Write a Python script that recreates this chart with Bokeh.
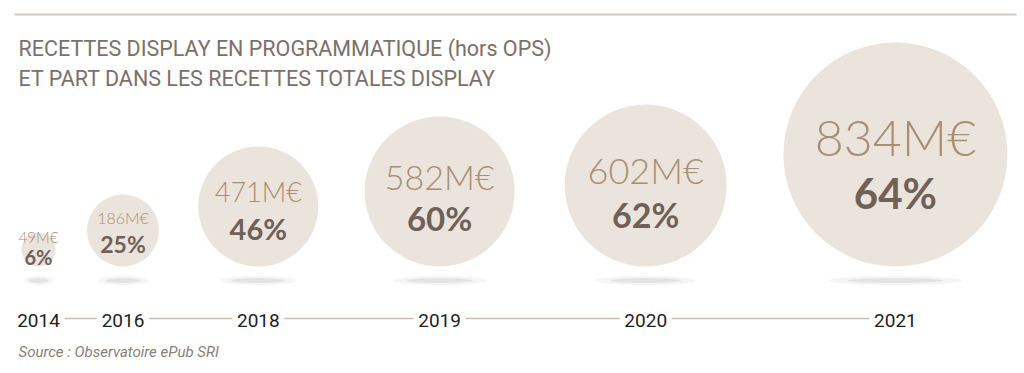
from bokeh.plotting import figure
from bokeh.models import Range1d, Label, ColumnDataSource
from bokeh.core.properties import value
from bokeh.embed import file_html
from bokeh.resources import INLINE

# ---- data ----
years = ["2014", "2016", "2018", "2019", "2020", "2021"]
revenue_meur = [49, 186, 471, 582, 602, 834]   # programmatic display revenue, M€
share_pct = [6, 25, 46, 60, 62, 64]            # share of total display revenue, %

# ---- styling / layout ----
BUBBLE_R = [17, 36, 60, 75, 81, 112]   # bubble radius in px as drawn in the infographic
BASELINE = 266                          # bubbles sit on this line
TIMELINE_Y = 318
X_START = 38

COND_S = "Roboto, sans-serif"
COND = value(COND_S)
LIGHT = value("'Lato Light', Lato, sans-serif")
BOLD = value("Lato, sans-serif")

# bubble centres packed from left to right
xs = [X_START]
for i in range(1, len(BUBBLE_R)):
    xs.append(xs[-1] + 1.18 * (BUBBLE_R[i - 1] + BUBBLE_R[i]) + 22)
cy = [BASELINE - r for r in BUBBLE_R]

src = ColumnDataSource(dict(
    x=xs,
    cy=cy,
    r=BUBBLE_R,
    year=years,
    val_txt=[f"{v}M€" for v in revenue_meur],
    pct_txt=[f"{s}%" for s in share_pct],
    val_y=[c - 0.06 * r - 11 for c, r in zip(cy, BUBBLE_R)],
    pct_y=[c + 0.33 * r + 2 for c, r in zip(cy, BUBBLE_R)],
    val_fs=[f"{max(15, 0.45 * r):.0f}px" for r in BUBBLE_R],
    pct_fs=[f"{max(20, 0.25 * r + 14):.0f}px" for r in BUBBLE_R],
    sh_y=[BASELINE + 14] * len(years),
    sh_w=[0.8 * r + 6 for r in BUBBLE_R],
    sh_w2=[1.1 * r + 10 for r in BUBBLE_R],
    ty=[TIMELINE_Y + 2] * len(years),
))

W, H = 1020, 368
p = figure(width=W, height=H, x_range=Range1d(0, W), y_range=Range1d(H, 0),
           output_backend="svg", toolbar_location=None, min_border=0)
p.axis.visible = False
p.grid.visible = False
p.outline_line_color = None
p.background_fill_color = "white"
p.border_fill_color = "white"

# top rule
p.line([14, 1016], [14, 14], line_color="#d2c8ba", line_width=2)

# title
p.add_layout(Label(x=18, y=48, text="RECETTES DISPLAY EN PROGRAMMATIQUE (hors OPS)",
                   text_baseline="middle", text_font=COND_S, text_font_size="21.5px",
                   text_color="#7b706a"))
p.add_layout(Label(x=18, y=78, text="ET PART DANS LES RECETTES TOTALES DISPLAY",
                   text_baseline="middle", text_font=COND_S, text_font_size="21.5px",
                   text_color="#7b706a"))

# shadows
p.ellipse(x="x", y="sh_y", width="sh_w2", height=9, source=src,
          fill_color="#d8d8dc", fill_alpha=0.25, line_color=None)
p.ellipse(x="x", y="sh_y", width="sh_w", height=5, source=src,
          fill_color="#cfcfd3", fill_alpha=0.45, line_color=None)

# bubbles
p.circle(x="x", y="cy", radius="r", source=src, fill_color="#ebe4dc", line_color=None)

# values
p.text(x="x", y="val_y", text="val_txt", source=src, text_align="center",
       text_baseline="middle", text_font=LIGHT, text_font_size="val_fs",
       text_color="#a88f74")
p.text(x="x", y="pct_y", text="pct_txt", source=src, text_align="center",
       text_baseline="middle", text_font=BOLD, text_font_style="bold",
       text_font_size="pct_fs", text_color="#6f6058")

# timeline
seg = ColumnDataSource(dict(x0=[x + 26 for x in xs[:-1]], x1=[x - 26 for x in xs[1:]],
                            y=[TIMELINE_Y] * (len(xs) - 1)))
p.segment(x0="x0", y0="y", x1="x1", y1="y", source=seg, line_color="#cbbfab", line_width=1.5)
p.text(x="x", y="ty", text="year", source=src, text_align="center", text_baseline="middle",
       text_font=COND, text_font_size="19px", text_color="#1e1e1e")

# source
p.add_layout(Label(x=18, y=351, text="Source : Observatoire ePub SRI", text_baseline="middle",
                   text_font=COND_S, text_font_style="italic", text_font_size="15px",
                   text_color="#8b8079"))

open("out.html", "w").write(file_html(p, INLINE))
